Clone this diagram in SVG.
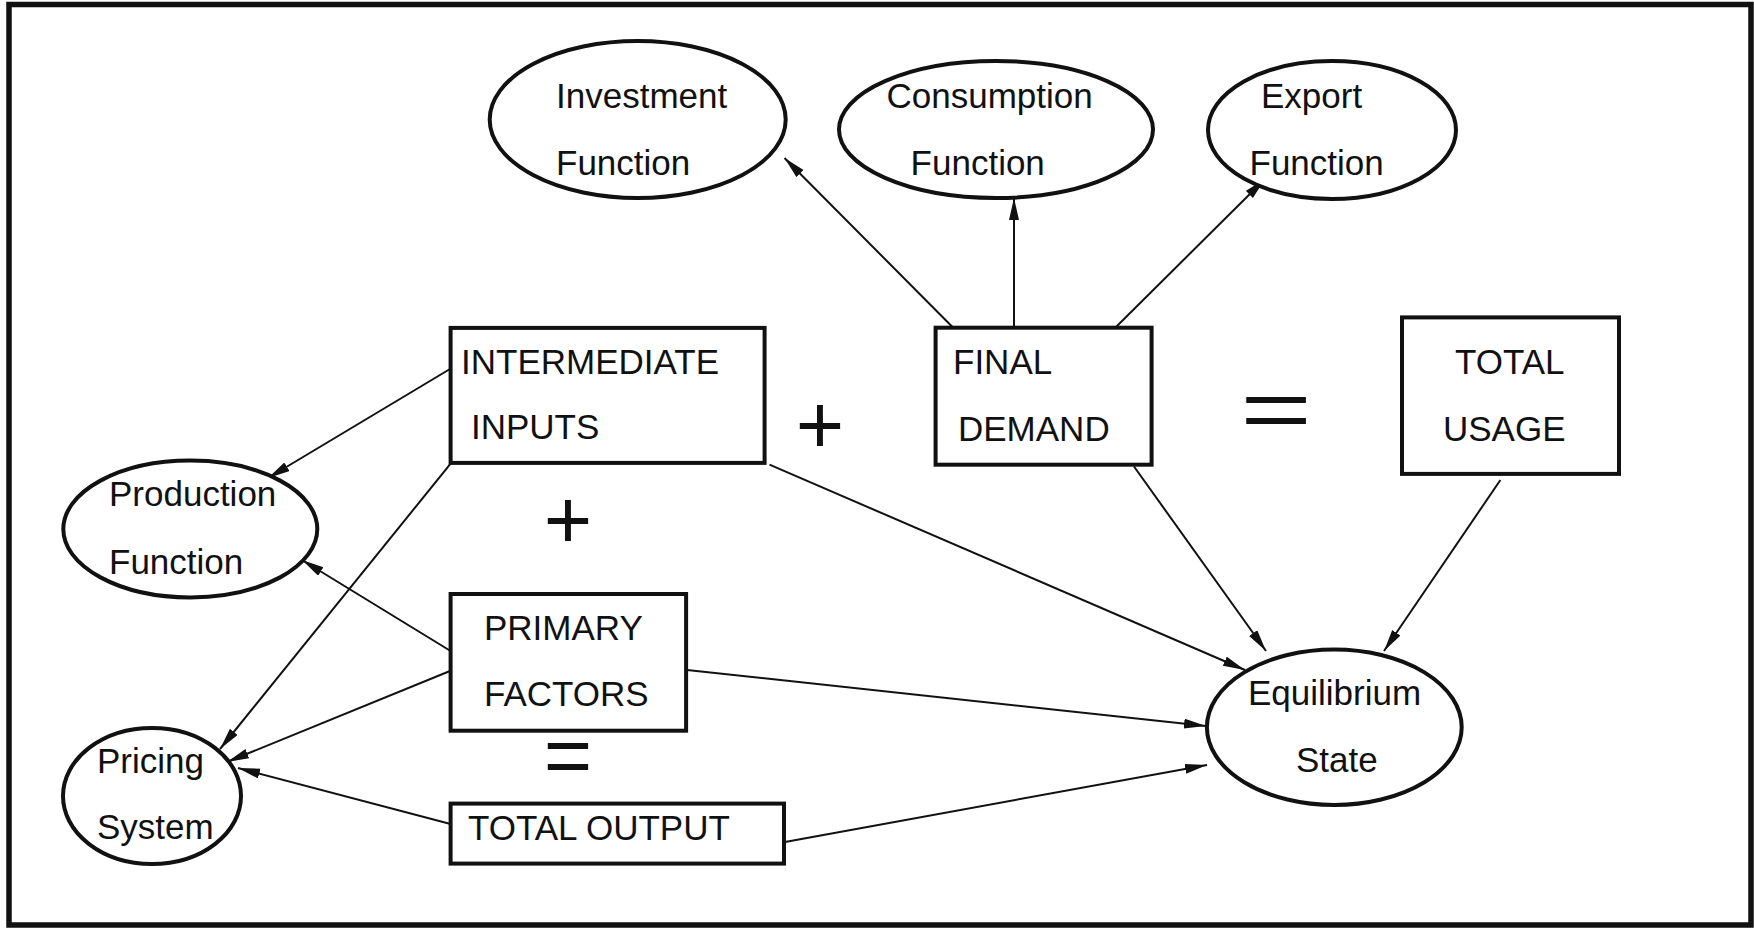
<svg xmlns="http://www.w3.org/2000/svg" width="1754" height="930" viewBox="0 0 1754 930">
<style>
.frame{fill:none;stroke:#111;stroke-width:5.5}
.box{fill:#fff;stroke:#111;stroke-width:4}
.ell{fill:#fff;stroke:#111;stroke-width:4}
.lbl{font-family:"Liberation Sans",Arial,sans-serif;font-size:35px;fill:#111}
.op{font-family:"Liberation Sans",Arial,sans-serif;font-size:83px;fill:#111}
.conn line{stroke:#111;stroke-width:2;fill:none;marker-end:url(#ah)}
</style>
<defs>
<marker id="ah" markerUnits="userSpaceOnUse" markerWidth="24" markerHeight="12" refX="22" refY="5" orient="auto">
<path d="M0,0 L22,5 L0,10 z" fill="#111"/>
</marker>
</defs>
<rect width="1754" height="930" fill="#fff"/>
<rect class="frame" x="9" y="4.5" width="1742" height="920.5"/>

<g id="connectors" class="conn">
<line x1="952.5" y1="327" x2="784.5" y2="158"/>
<line x1="1014" y1="327" x2="1014" y2="198"/>
<line x1="1116" y1="327" x2="1265" y2="179"/>
<line x1="450" y1="369" x2="268" y2="478"/>
<line x1="450.6" y1="463.6" x2="220" y2="749"/>
<line x1="450.6" y1="651" x2="302" y2="560"/>
<line x1="450" y1="671" x2="227" y2="762"/>
<line x1="450.6" y1="824" x2="238" y2="768"/>
<line x1="769.5" y1="464.6" x2="1245" y2="670"/>
<line x1="1134" y1="466.5" x2="1266" y2="651"/>
<line x1="1500.4" y1="480" x2="1384" y2="651"/>
<line x1="687" y1="670" x2="1206" y2="726"/>
<line x1="785" y1="842" x2="1207" y2="765"/>
</g>

<g id="investment">
<ellipse class="ell" cx="637.7" cy="119.5" rx="148" ry="78.5"/>
<text class="lbl" x="556" y="108">Investment</text>
<text class="lbl" x="556" y="175">Function</text>
</g>
<g id="consumption">
<ellipse class="ell" cx="996" cy="129.5" rx="157" ry="68.5"/>
<text class="lbl" x="886.5" y="108">Consumption</text>
<text class="lbl" x="910.6" y="175">Function</text>
</g>
<g id="export">
<ellipse class="ell" cx="1332" cy="130" rx="124" ry="69"/>
<text class="lbl" x="1261" y="108">Export</text>
<text class="lbl" x="1249.5" y="175">Function</text>
</g>
<g id="intermediate">
<rect class="box" x="450.6" y="327.9" width="314" height="135"/>
<text class="lbl" x="461" y="374">INTERMEDIATE</text>
<text class="lbl" x="471" y="439">INPUTS</text>
</g>
<g id="final-demand">
<rect class="box" x="935.6" y="327.7" width="216" height="137"/>
<text class="lbl" x="953" y="374">FINAL</text>
<text class="lbl" x="958" y="440.6">DEMAND</text>
</g>
<g id="total-usage">
<rect class="box" x="1402" y="317.4" width="217" height="156.5"/>
<text class="lbl" x="1455" y="374">TOTAL</text>
<text class="lbl" x="1443" y="440.6">USAGE</text>
</g>
<g id="production">
<ellipse class="ell" cx="190.3" cy="529" rx="127" ry="68.4"/>
<text class="lbl" x="109" y="506">Production</text>
<text class="lbl" x="109" y="573.6">Function</text>
</g>
<g id="primary">
<rect class="box" x="450.6" y="594" width="235.5" height="136.7"/>
<text class="lbl" x="484" y="640">PRIMARY</text>
<text class="lbl" x="484" y="706">FACTORS</text>
</g>
<g id="pricing">
<ellipse class="ell" cx="152" cy="796" rx="89" ry="68"/>
<text class="lbl" x="97" y="773">Pricing</text>
<text class="lbl" x="97" y="838.6">System</text>
</g>
<g id="total-output">
<rect class="box" x="450.6" y="803.6" width="333.4" height="60"/>
<text class="lbl" x="468" y="840">TOTAL OUTPUT</text>
</g>
<g id="equilibrium">
<ellipse class="ell" cx="1334.3" cy="727.3" rx="127.4" ry="77.7"/>
<text class="lbl" x="1248" y="705">Equilibrium</text>
<text class="lbl" x="1296" y="771.7">State</text>
</g>

<g id="operators">
<text class="op" x="820" y="453" text-anchor="middle">+</text>
<text class="op" x="568" y="548" text-anchor="middle">+</text>
<text class="op" transform="translate(1276,437.8) scale(1.48,1)" x="0" y="0" text-anchor="middle">=</text>
<text class="op" x="568" y="784.2" text-anchor="middle">=</text>
</g>
</svg>
